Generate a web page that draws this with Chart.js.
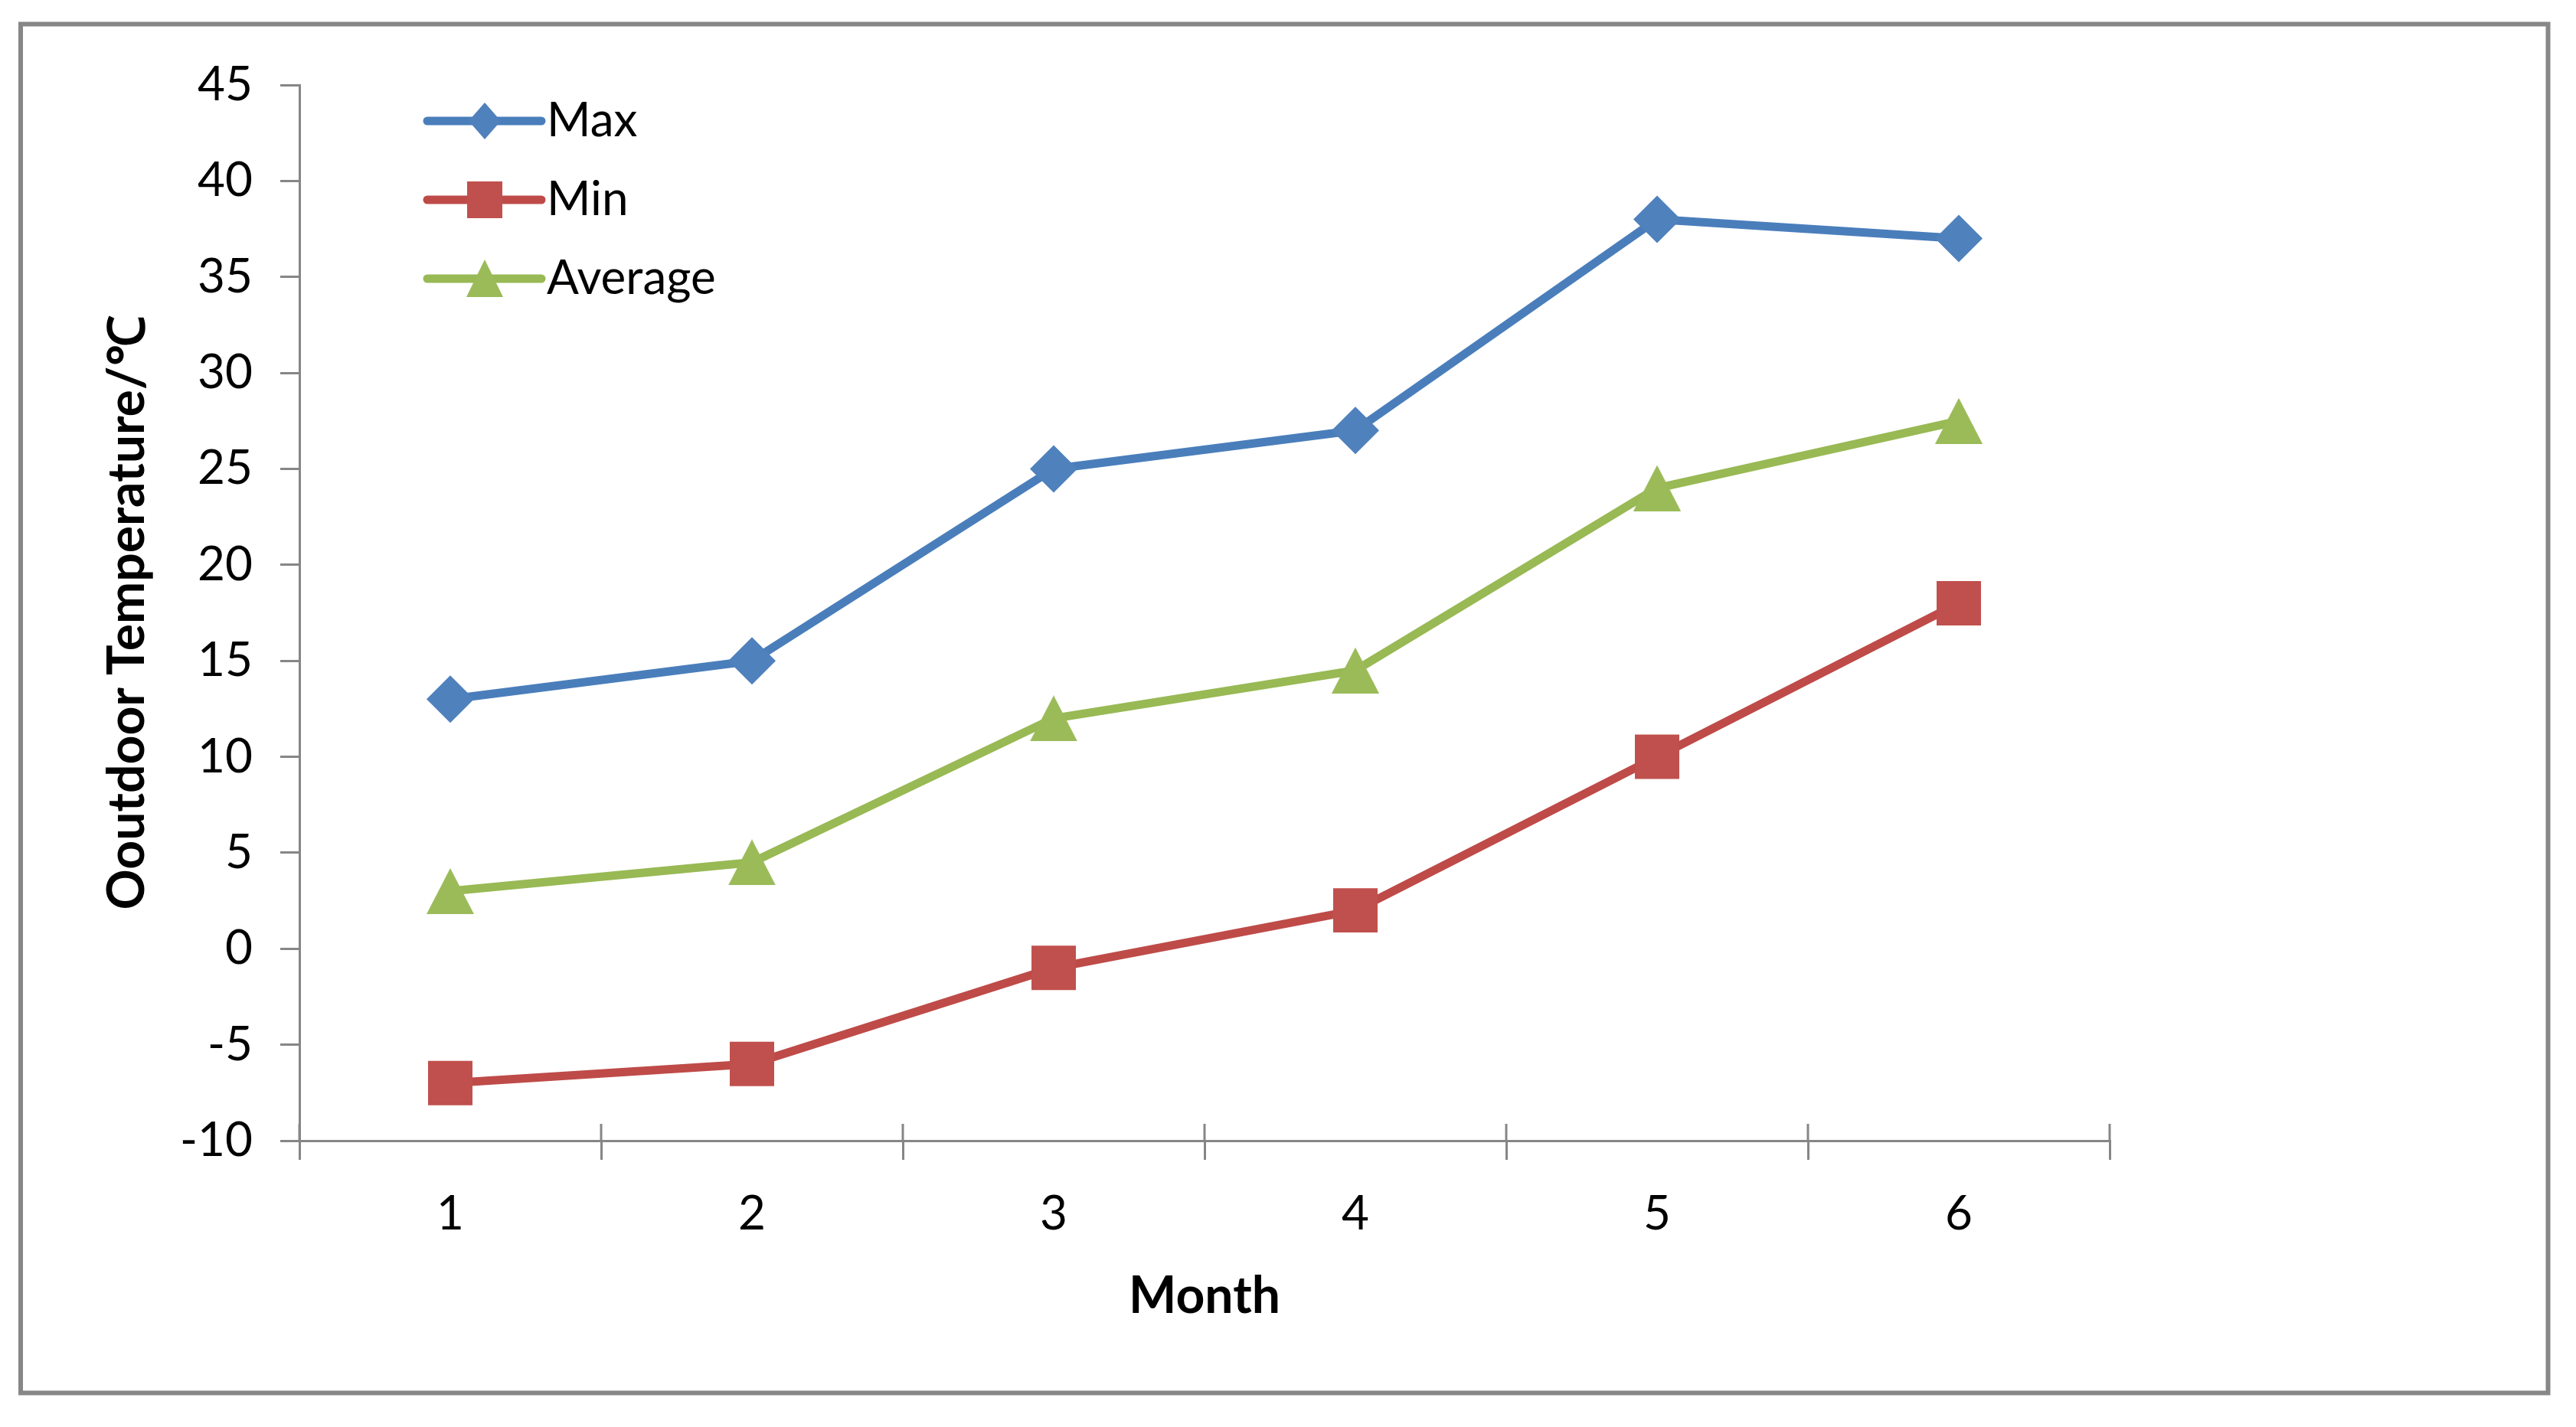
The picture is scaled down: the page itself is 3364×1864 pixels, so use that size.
<!DOCTYPE html>
<html>
<head>
<meta charset="utf-8">
<script src="https://cdn.jsdelivr.net/npm/chart.js"></script>
<style>
  html, body { margin: 0; padding: 0; background: #ffffff; }
  #wrap { width: 3364px; height: 1864px; position: relative; }
  canvas { display: block; }
</style>
</head>
<body>
<div id="wrap"><canvas id="c" width="3364" height="1864"></canvas></div>
<script>
// ---- data ----
const months = ['1', '2', '3', '4', '5', '6'];
const maxTemp = [13, 15, 25, 27, 38, 37];
const minTemp = [-7, -6, -1, 2, 10, 18];
const avgTemp = [3, 4.5, 12, 14.5, 24, 27.5];
const seriesNames = ['Max', 'Min', 'Average'];
const yMin = -10, yMax = 45, yStep = 5;
const xTitle = 'Month';
const yTitle = 'Ooutdoor Temperature/℃';

// ---- styles ----
const FONT = 'Lato';
const AXIS_COLOR = '#868686';
const lineColors = ['#4A7EBB', '#BE4B48', '#98B954'];
const pointColors = ['#4F81BD', '#C0504D', '#9BBB59'];

function triangleCanvas(w, h, color) {
  const c = document.createElement('canvas');
  c.width = w; c.height = h;
  const g = c.getContext('2d');
  g.fillStyle = color;
  g.beginPath();
  g.moveTo(w / 2, 0);
  g.lineTo(w, h);
  g.lineTo(0, h);
  g.closePath();
  g.fill();
  return c;
}
const triPoint = triangleCanvas(62, 60, pointColors[2]);

const frameplugin = {
  id: 'frame',
  beforeDraw(chart) {
    const ctx = chart.ctx;
    ctx.save();
    ctx.fillStyle = '#ffffff';
    ctx.fillRect(0, 0, chart.width, chart.height);
    ctx.strokeStyle = '#878787';
    ctx.lineWidth = 6;
    ctx.strokeRect(27, 31.5, 3300.5, 1788);
    ctx.restore();
  }
};

const crossTicks = {
  id: 'crossTicks',
  afterDraw(chart) {
    const xs = chart.scales.x;
    const ctx = chart.ctx;
    const n = xs.ticks.length;
    ctx.save();
    ctx.strokeStyle = AXIS_COLOR;
    ctx.lineWidth = 3;
    for (let i = 0; i <= n; i++) {
      const x = xs.left + i * (xs.right - xs.left) / n;
      ctx.beginPath();
      ctx.moveTo(x, xs.top - 22);
      ctx.lineTo(x, xs.top);
      ctx.stroke();
    }
    ctx.restore();
  }
};

const customLegend = {
  id: 'customLegend',
  afterDraw(chart) {
    const ctx = chart.ctx;
    const area = chart.chartArea;
    const x0 = area.left + 167;
    const y0 = area.top + 47;
    const gap = 103;
    ctx.save();
    chart.data.datasets.forEach((ds, i) => {
      const y = y0 + i * gap;
      ctx.strokeStyle = ds.borderColor;
      ctx.lineWidth = 11;
      ctx.lineCap = 'round';
      ctx.beginPath();
      ctx.moveTo(x0, y);
      ctx.lineTo(x0 + 149, y);
      ctx.stroke();
      const cx = x0 + 75;
      ctx.fillStyle = ds.pointBackgroundColor;
      ctx.beginPath();
      if (i === 0) {
        ctx.moveTo(cx, y - 24); ctx.lineTo(cx + 21, y); ctx.lineTo(cx, y + 24); ctx.lineTo(cx - 21, y);
      } else if (i === 1) {
        ctx.rect(cx - 23, y - 24, 46, 48);
      } else {
        ctx.moveTo(cx, y - 25); ctx.lineTo(cx + 24, y + 24); ctx.lineTo(cx - 24, y + 24);
      }
      ctx.closePath();
      ctx.fill();
      ctx.fillStyle = '#000000';
      ctx.font = '62px ' + FONT;
      ctx.textBaseline = 'middle';
      ctx.textAlign = 'left';
      ctx.fillText(ds.label, x0 + 156, y);
    });
    ctx.restore();
  }
};

new Chart(document.getElementById('c'), {
  type: 'line',
  data: {
    labels: months,
    datasets: [
      {
        label: seriesNames[0], data: maxTemp,
        borderColor: lineColors[0], backgroundColor: pointColors[0],
        pointBackgroundColor: pointColors[0], pointBorderColor: pointColors[0],
        pointStyle: 'rectRot', pointRadius: 31, pointBorderWidth: 0, pointHoverRadius: 31
      },
      {
        label: seriesNames[1], data: minTemp,
        borderColor: lineColors[1], backgroundColor: pointColors[1],
        pointBackgroundColor: pointColors[1], pointBorderColor: pointColors[1],
        pointStyle: 'rect', pointRadius: 41, pointBorderWidth: 0, pointHoverRadius: 41
      },
      {
        label: seriesNames[2], data: avgTemp,
        borderColor: lineColors[2], backgroundColor: pointColors[2],
        pointBackgroundColor: pointColors[2], pointBorderColor: pointColors[2],
        pointStyle: triPoint, pointRadius: 31, pointBorderWidth: 0, pointHoverRadius: 31
      }
    ]
  },
  options: {
    responsive: false,
    animation: false,
    devicePixelRatio: 1,
    layout: { padding: { left: 127, top: 111, right: 609, bottom: 131 } },
    elements: {
      line: { borderWidth: 11, tension: 0, borderJoinStyle: 'round', borderCapStyle: 'round', fill: false }
    },
    plugins: {
      legend: { display: false },
      tooltip: { enabled: false },
      title: { display: false }
    },
    scales: {
      x: {
        type: 'category',
        offset: true,
        afterFit: (s) => { s.height = 243; },
        grid: {
          offset: true, drawOnChartArea: false, drawTicks: true,
          tickLength: 25, color: AXIS_COLOR, lineWidth: 3
        },
        border: { display: true, color: AXIS_COLOR, width: 3 },
        ticks: { color: '#000000', font: { family: FONT, size: 62 }, padding: 34, maxRotation: 0 },
        title: {
          display: true, text: xTitle, color: '#000000',
          font: { family: FONT, size: 66, weight: 'bold' }, padding: 0
        }
      },
      y: {
        min: yMin, max: yMax,
        afterFit: (s) => { s.width = 264; },
        ticks: { stepSize: yStep, color: '#000000', font: { family: FONT, size: 62 }, padding: 36 },
        grid: {
          drawOnChartArea: false, drawTicks: true,
          tickLength: 25, color: AXIS_COLOR, lineWidth: 3
        },
        border: { display: true, color: AXIS_COLOR, width: 3 },
        title: {
          display: true, text: yTitle, color: '#000000',
          font: { family: FONT, size: 66, weight: 'bold' }, padding: 0
        }
      }
    }
  },
  plugins: [frameplugin, crossTicks, customLegend]
});
</script>
</body>
</html>
